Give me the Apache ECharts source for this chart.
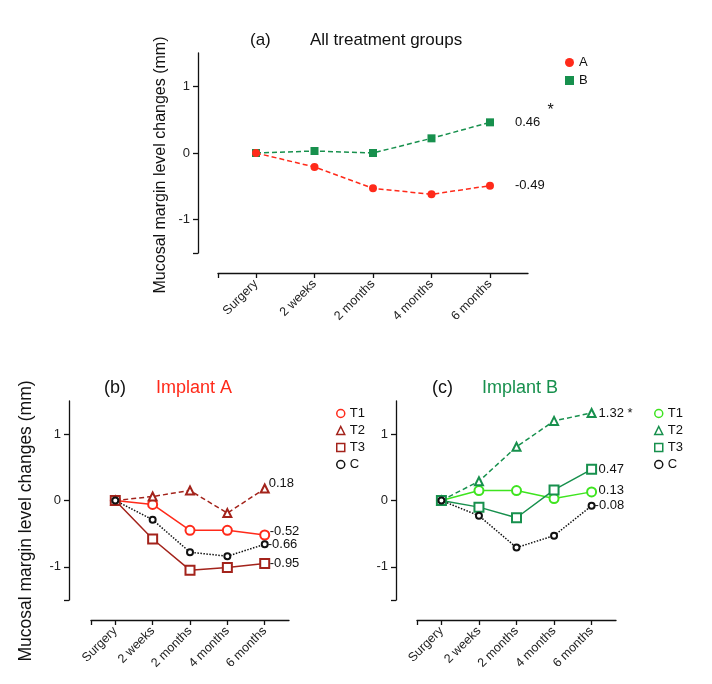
<!DOCTYPE html>
<html><head><meta charset="utf-8">
<script src="https://cdn.jsdelivr.net/npm/echarts@6/dist/echarts.min.js"></script>
<style>html,body{margin:0;padding:0;background:#fff}#c{width:712px;height:684px}</style>
</head><body><div id="c"></div>
<script>
const categories = ['Surgery', '2 weeks', '2 months', '4 months', '6 months'];
const yTickLabels = [-1, 0, 1];
// Panel (a)
const aA = [0, -0.21, -0.53, -0.62, -0.49];
const aB = [0, 0.03, 0.0, 0.22, 0.46];
// Panel (b) Implant A
const bT1 = [0, -0.06, -0.45, -0.45, -0.52];
const bT2 = [0, 0.06, 0.15, -0.19, 0.18];
const bT3 = [0, -0.58, -1.05, -1.01, -0.95];
const bC  = [0, -0.29, -0.78, -0.84, -0.66];
// Panel (c) Implant B
const cT1 = [0, 0.15, 0.15, 0.03, 0.13];
const cT2 = [0, 0.29, 0.81, 1.20, 1.32];
const cT3 = [0, -0.10, -0.26, 0.16, 0.47];
const cC  = [0, -0.23, -0.71, -0.53, -0.08];

const RED = '#ff2a1a', DRED = '#a3231b', GREEN = '#17904d', LGREEN = '#3ee41f', BLACK = '#111';
const FONT = 'Liberation Sans, Arial, sans-serif';

function pts(arr){ return arr.map((v,i)=>[i,v]); }

function xAxis(idx){
  return {
    type:'value', gridIndex:idx, min:-0.65, max:4.65, offset:20,
    axisLine:{show:true, onZero:false, lineStyle:{color:'#111', width:1.3}},
    axisTick:{show:true, customValues:[-0.65,0,1,2,3,4], length:5, inside:false, lineStyle:{color:'#111', width:1.3}},
    axisLabel:{customValues:[0,1,2,3,4], rotate:45, margin:9, fontSize:12.5, color:'#222', fontFamily:FONT,
      formatter:v=>categories[Math.round(v)]},
    splitLine:{show:false}
  };
}
function yAxis(idx, off){
  return {
    type:'value', gridIndex:idx, min:-1.5, max:1.5, offset:off,
    axisLine:{show:true, onZero:false, lineStyle:{color:'#111', width:1.3}},
    axisTick:{show:true, customValues:[-1.5,-1,0,1], length:5, lineStyle:{color:'#111', width:1.3}},
    axisLabel:{customValues:yTickLabels, fontSize:13, color:'#222', fontFamily:FONT, margin:8},
    splitLine:{show:false}
  };
}
function line(name, data, gi, color, symbol, size, ltype, endText, dist, offY){
  return {
    type:'line', name:name, xAxisIndex:gi, yAxisIndex:gi, data:pts(data),
    symbol:symbol, symbolSize:size, showSymbol:true,
    lineStyle:{color:color, width:1.5, type:ltype},
    itemStyle:{color:color, borderWidth:1.5},
    emphasis:{disabled:true},
    endLabel:{show:true, formatter:endText, distance:dist, offset:[0,offY||0], fontSize:13, color:'#111', fontFamily:FONT,
      rich:{s:{fontSize:16, fontFamily:FONT, color:'#111', padding:[0,0,24,0]}}},
    z: 2
  };
}
function lg(name, icon, color){
  return {name:name, icon:icon, itemStyle:{color:'#fff', borderColor:color, borderWidth:1.5}};
}
const dash = [5,3];
const option = {
  animation:false,
  textStyle:{fontFamily:FONT},
  grid:[
    {left:218, top:53, width:310, height:200},
    {left:91, top:401, width:198, height:199},
    {left:417, top:401, width:199, height:199}
  ],
  xAxis:[xAxis(0), xAxis(1), xAxis(2)],
  yAxis:[yAxis(0,20), yAxis(1,22), yAxis(2,21)],
  legend:[
    {orient:'vertical', left:560, top:51, itemWidth:9, itemHeight:9, itemGap:5,
     textStyle:{fontSize:13, color:'#111', fontFamily:FONT},
     data:[{name:'A', icon:'circle'},{name:'B', icon:'rect'}]},
    {orient:'vertical', left:331, top:402, itemWidth:8, itemHeight:8, itemGap:4,
     textStyle:{fontSize:13, color:'#111', fontFamily:FONT},
     formatter:n=>n.slice(1),
     data:[lg('bT1','circle',RED), lg('bT2','triangle',DRED), lg('bT3','rect',DRED), lg('bC','circle',BLACK)]},
    {orient:'vertical', left:649, top:402, itemWidth:8, itemHeight:8, itemGap:4,
     textStyle:{fontSize:13, color:'#111', fontFamily:FONT},
     formatter:n=>n.slice(1),
     data:[lg('cT1','circle',LGREEN), lg('cT2','triangle',GREEN), lg('cT3','rect',GREEN), lg('cC','circle',BLACK)]}
  ],
  title:[
    {text:'(a)', left:245, top:27, textStyle:{fontSize:17, fontWeight:'normal', color:'#111', fontFamily:FONT}},
    {text:'All treatment groups', left:305, top:27, textStyle:{fontSize:17, fontWeight:'normal', color:'#111', fontFamily:FONT}},
    {text:'(b)', left:99, top:374, textStyle:{fontSize:18, fontWeight:'normal', color:'#111', fontFamily:FONT}},
    {text:'Implant A', left:151, top:374, textStyle:{fontSize:18, fontWeight:'normal', color:RED, fontFamily:FONT}},
    {text:'(c)', left:427, top:374, textStyle:{fontSize:18, fontWeight:'normal', color:'#111', fontFamily:FONT}},
    {text:'Implant B', left:477, top:374, textStyle:{fontSize:18, fontWeight:'normal', color:GREEN, fontFamily:FONT}}
  ],
  graphic:[
    {type:'text', x:161, y:165, rotation:Math.PI/2, style:{text:'Mucosal margin level changes (mm)', fontSize:16, fill:'#111', fontFamily:FONT, align:'center', verticalAlign:'middle'}},
    {type:'text', x:26, y:521, rotation:Math.PI/2, style:{text:'Mucosal margin level changes (mm)', fontSize:17.5, fill:'#111', fontFamily:FONT, align:'center', verticalAlign:'middle'}}
  ],
  series:[
    line('B', aB, 0, GREEN, 'rect', 8, dash, '0.46  {s|*}', 25, 0),
    line('A', aA, 0, RED, 'circle', 8, dash, '-0.49', 25, 0),
    line('bT1', bT1, 1, RED, 'emptyCircle', 9, 'solid', '-0.52', 5, -4),
    line('bT2', bT2, 1, DRED, 'emptyTriangle', 8, [5,3], '0.18', 4, -5),
    line('bT3', bT3, 1, DRED, 'emptyRect', 9, 'solid', '-0.95', 5, 0),
    line('bC', bC, 1, BLACK, 'emptyCircle', 6, 'dotted', '-0.66', 3, 0),
    line('cT1', cT1, 2, LGREEN, 'emptyCircle', 9, 'solid', '0.13', 7, -1),
    line('cT2', cT2, 2, GREEN, 'emptyTriangle', 8, [5,3], '1.32 *', 7, 0),
    line('cT3', cT3, 2, GREEN, 'emptyRect', 9, 'solid', '0.47', 7, 0),
    line('cC', cC, 2, BLACK, 'emptyCircle', 6, 'dotted', '-0.08', 3, 0)
  ]
};
const chart = echarts.init(document.getElementById('c'), null, {renderer:'canvas'});
chart.setOption(option);
</script></body></html>
